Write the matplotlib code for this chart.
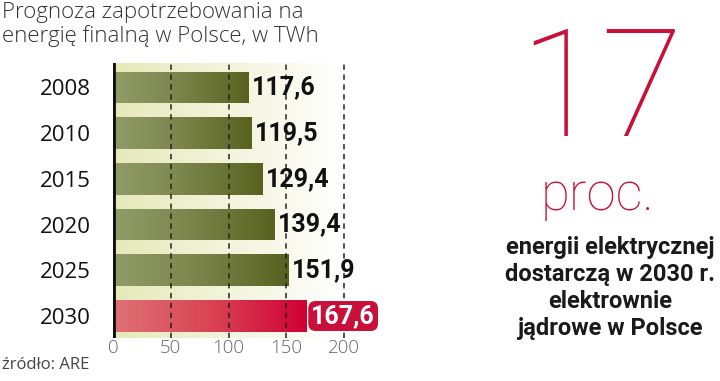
import numpy as np
import matplotlib.pyplot as plt
from matplotlib.colors import LinearSegmentedColormap

years = ['2008', '2010', '2015', '2020', '2025', '2030']
values = [117.6, 119.5, 129.4, 139.4, 151.9, 167.6]
labels = ['117,6', '119,5', '129,4', '139,4', '151,9', '167,6']
ticks = [0, 50, 100, 150, 200]

olive = LinearSegmentedColormap.from_list('olive', ['#929c68', '#7a844a', '#58621f'])
red = LinearSegmentedColormap.from_list('red', ['#df7276', '#d94454', '#cf0035'])
bg = LinearSegmentedColormap.from_list('bg', ['#e6e9b8', '#f3f4dc', '#ffffff'])

fig = plt.figure(figsize=(7.2, 3.81), dpi=100)
ax = fig.add_axes([0.157, 0.113, 0.369, 0.722])
xmax = 230
ax.set_xlim(0, xmax)
ylo, yhi = len(years) - 0.52, -0.536
ax.set_ylim(ylo, yhi)

# pale background band fading to white
grad = np.linspace(0, 1, 256).reshape(1, -1)
ax.imshow(grad, cmap=bg, aspect='auto', extent=[0, 200, ylo, yhi], zorder=0)

bars = ax.barh(range(len(years)), values, height=0.69, color='none', zorder=2)
for i, b in enumerate(bars):
    cm = red if i == len(years) - 1 else olive
    x0, y0 = b.get_x(), b.get_y()
    im = ax.imshow(grad, cmap=cm, aspect='auto',
                   extent=[x0, x0 + b.get_width(), y0 + b.get_height(), y0], zorder=2)
    im.set_clip_path(b)

for t in ticks[1:]:
    ax.axvline(t, color='#222222', lw=1.1, ls=(0, (3.5, 3)), zorder=3)
ax.axvline(0, color='#111111', lw=3.5, zorder=4)

for i, (v, lab) in enumerate(zip(values, labels)):
    if i == len(years) - 1:
        ax.text(v + 4, i, lab, va='center', ha='left', fontsize=18, fontweight='bold',
                family='Roboto', color='white', zorder=6,
                bbox=dict(boxstyle='round,pad=0.12,rounding_size=0.3', fc='#c8103a', ec='none'))
    else:
        ax.text(v + 3, i, lab, va='center', ha='left', fontsize=18, fontweight='bold',
                family='Roboto', color='#111111', zorder=6)

ax.set_yticks(range(len(years)))
ax.set_yticklabels(years, fontsize=16, color='#111111', family='Open Sans')
ax.tick_params(axis='y', length=0, pad=16)
ax.set_xticks(ticks)
ax.set_xticklabels([str(t) for t in ticks], fontsize=13.5, color='#666666',
                   family='Open Sans', fontweight='light')
ax.tick_params(axis='x', length=0, pad=1)
for s in ax.spines.values():
    s.set_visible(False)

fig.text(0.003, 0.995, 'Prognoza zapotrzebowania na\nenergię finalną w Polsce, w TWh',
         ha='left', va='top', fontsize=16, color='#333333', family='Open Sans',
         fontweight='light', linespacing=1.15)
fig.text(0.003, 0.042, 'źródło: ARE', ha='left', va='center', fontsize=12,
         color='#444444', family='Open Sans')

fig.text(0.835, 0.642, '17', ha='center', va='baseline', fontsize=108, color='#c8103a',
         family='Roboto', fontweight='light')
fig.text(0.83, 0.449, 'proc.', ha='center', va='baseline', fontsize=38, color='#c8103a',
         family='Roboto', fontweight='light')
fig.text(0.847, 0.244, 'energii elektrycznej\ndostarczą w 2030 r.\nelektrownie\njądrowe w Polsce',
         ha='center', va='center', fontsize=17, color='#1a1a1a', family='Roboto',
         fontweight='bold', linespacing=1.22)

fig.savefig('out.png', dpi=100)
